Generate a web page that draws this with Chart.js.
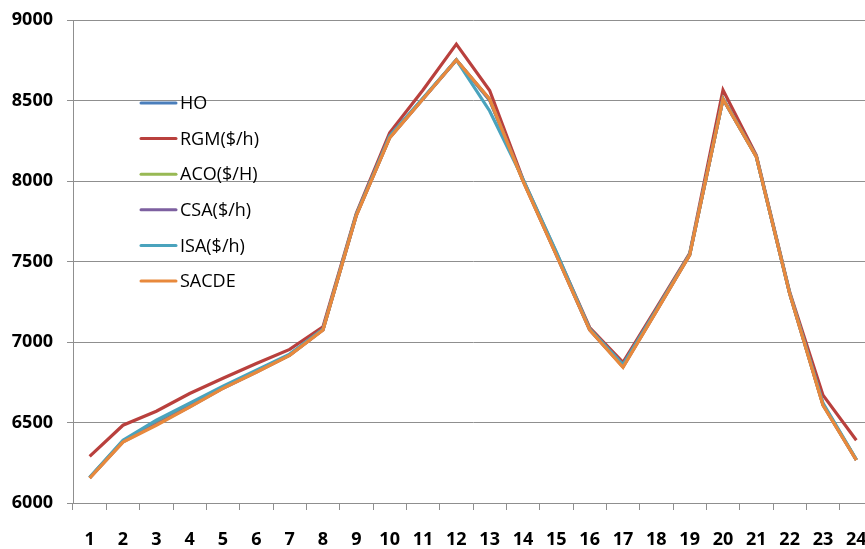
<!DOCTYPE html>
<html>
<head>
<meta charset="utf-8">
<title>Hourly cost</title>
<script src="https://cdn.jsdelivr.net/npm/chart.js@4.4.1/dist/chart.umd.min.js"></script>
<style>
  html, body { margin: 0; padding: 0; background: #fff; overflow: hidden; }
  #wrap { width: 873px; height: 549px; }
</style>
</head>
<body>
<div id="wrap"><canvas id="lineChart" width="873" height="549"></canvas></div>
<script>
// hours on the x axis
var hours = ["1","2","3","4","5","6","7","8","9","10","11","12","13","14","15","16","17","18","19","20","21","22","23","24"];

var seriesNames = ["HO", "RGM($/h)", "ACO($/H)", "CSA($/h)", "ISA($/h)", "SACDE"];

var hoVals    = [6158, 6385, 6500, 6608, 6718, 6818, 6920, 7078, 7790, 8272, 8512, 8752, 8500, 8005, 7545, 7078, 6850, 7195, 7542, 8510, 8152, 7302, 6612, 6268];
var rgmVals   = [6290, 6483, 6570, 6680, 6775, 6867, 6954, 7095, 7800, 8300, 8565, 8850, 8562, 8010, 7555, 7090, 6874, 7210, 7550, 8565, 8160, 7310, 6670, 6390];
var acoVals   = [6157, 6382, 6492, 6602, 6715, 6815, 6918, 7077, 7788, 8270, 8511, 8752, 8505, 8003, 7543, 7077, 6848, 7193, 7541, 8510, 8151, 7301, 6610, 6267];
var csaVals   = [6156, 6380, 6488, 6598, 6713, 6813, 6918, 7076, 7786, 8269, 8510, 8751, 8507, 8002, 7542, 7076, 6846, 7192, 7541, 8509, 8151, 7301, 6609, 6267];
var isaVals   = [6160, 6390, 6514, 6620, 6725, 6825, 6925, 7080, 7792, 8280, 8515, 8752, 8435, 8012, 7560, 7082, 6860, 7200, 7545, 8512, 8152, 7305, 6620, 6270];
var sacdeVals = [6155, 6378, 6483, 6595, 6712, 6812, 6917, 7075, 7785, 8268, 8509, 8752, 8509, 8000, 7540, 7075, 6843, 7190, 7540, 8509, 8150, 7300, 6607, 6266];

var yTicks = [6000, 6500, 7000, 7500, 8000, 8500, 9000];

var lineColors = ["#4A7EBB", "#B9403D", "#98B954", "#7D60A0", "#4AA3BD", "#E8893C"];
var allVals = [hoVals, rgmVals, acoVals, csaVals, isaVals, sacdeVals];

var gridGray = "#8f8f8f";
var tickFont = { family: "'Open Sans', 'DejaVu Sans', sans-serif", size: 18, weight: "bold" };

// legend sits inside the plot area, drawn by hand
var insideLegend = {
  id: "insideLegend",
  afterDraw: function(chart) {
    var ctx = chart.ctx;
    var x0 = 141, y0 = 103, step = 35.6;
    ctx.save();
    ctx.font = "18px 'Open Sans', 'DejaVu Sans', sans-serif";
    ctx.textBaseline = "middle";
    ctx.fillStyle = "#000";
    for (var i = 0; i < seriesNames.length; i++) {
      var y = y0 + i * step;
      ctx.strokeStyle = lineColors[i];
      ctx.lineWidth = 3;
      ctx.lineCap = "round";
      ctx.beginPath();
      ctx.moveTo(x0, y);
      ctx.lineTo(x0 + 35, y);
      ctx.stroke();
      ctx.fillText(seriesNames[i], x0 + 39, y + 1);
    }
    ctx.restore();
  }
};

var datasets = [];
for (var i = 0; i < seriesNames.length; i++) {
  datasets.push({
    label: seriesNames[i],
    data: allVals[i],
    borderColor: lineColors[i],
    backgroundColor: lineColors[i],
    borderWidth: 3.2,
    pointRadius: 0,
    tension: 0,
    fill: false,
    clip: false,
    // later series on top, like the spreadsheet
    order: seriesNames.length - i
  });
}

new Chart(document.getElementById("lineChart"), {
  type: "line",
  data: { labels: hours, datasets: datasets },
  plugins: [insideLegend],
  options: {
    responsive: false,
    animation: false,
    devicePixelRatio: 1,
    layout: { padding: { top: 20, right: 0, left: 0, bottom: 0 } },
    plugins: {
      legend: { display: false },
      tooltip: { enabled: false }
    },
    scales: {
      x: {
        offset: true,
        grid: {
          offset: true,
          drawOnChartArea: false,
          drawTicks: true,
          tickLength: 7,
          color: gridGray
        },
        border: { display: true, color: gridGray },
        ticks: { color: "#000", font: tickFont, padding: 19, maxRotation: 0, autoSkip: false },
        afterFit: function(scale) {
          scale.height = 46;
          scale.paddingLeft = 0;
          scale.paddingRight = 0;
        }
      },
      y: {
        min: 6000,
        max: 9000,
        afterBuildTicks: function(scale) {
          scale.ticks = yTicks.map(function(v) { return { value: v }; });
        },
        grid: { color: gridGray, drawTicks: true, tickLength: 6 },
        border: { display: true, color: gridGray },
        ticks: {
          color: "#000",
          font: tickFont,
          padding: 14,
          callback: function(v) { return String(v); }
        },
        afterFit: function(scale) {
          scale.width = 73;
          scale.paddingTop = 0;
          scale.paddingBottom = 0;
        }
      }
    }
  }
});
</script>
</body>
</html>
